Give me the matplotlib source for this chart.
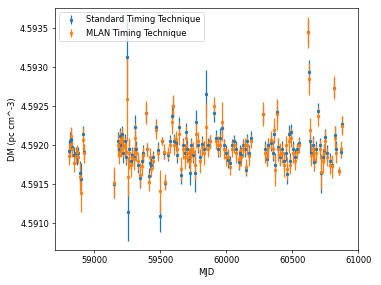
import matplotlib
matplotlib.use("Agg")
import matplotlib.pyplot as plt

# epochs (MJD)
mjd = [58808, 58818, 58825, 58832, 58845, 58858, 58870, 58878, 58890, 58900, 58912, 58918,
       59150, 59178, 59188, 59195, 59203, 59212, 59220, 59230, 59240, 59248, 59256, 59265,
       59275, 59287, 59298, 59307, 59318, 59330, 59345, 59358, 59372, 59388, 59400, 59413,
       59421, 59432, 59445, 59466, 59483, 59500, 59516, 59530, 59539, 59559, 59570, 59585,
       59597, 59605, 59615, 59625, 59642, 59660, 59672, 59685, 59692, 59705, 59717, 59723,
       59735, 59750, 59766, 59773, 59785, 59800, 59816, 59830, 59844, 59858, 59880, 59904,
       59920, 59935, 59950, 59967, 59980, 59995,
       60012, 60030, 60045, 60060, 60075, 60093, 60105, 60113, 60125, 60140, 60151, 60160,
       60171, 60185,
       60282, 60295, 60307, 60320, 60340, 60352, 60365, 60372, 60385, 60395, 60410, 60425,
       60440, 60450, 60461, 60473, 60480, 60491, 60505, 60520, 60535, 60554,
       60617, 60629, 60635, 60642, 60655, 60667, 60680, 60697, 60710, 60722, 60735, 60742,
       60750, 60765, 60785, 60800, 60815, 60822, 60835, 60856, 60871, 60880]

# standard timing technique
dm_std = [4.59193, 4.59205, 4.59208, 4.59198, 4.59188, 4.59190, 4.59185, 4.59190, 4.59165, 4.59157, 4.59215, 4.59192,
          4.59150, 4.59205, 4.59195, 4.59212, 4.59200, 4.59215, 4.59190, 4.59205, 4.59185, 4.59313, 4.59115, 4.59195,
          4.59180, 4.59188, 4.59185, 4.59224, 4.59195, 4.59175, 4.59158, 4.59180, 4.59190, 4.59242, 4.59195, 4.59161,
          4.59178, 4.59175, 4.59185, 4.59224, 4.59194, 4.59109, 4.59206, 4.59190, 4.59152, 4.59188, 4.59205, 4.59237,
          4.59250, 4.59205, 4.59203, 4.59188, 4.59224, 4.59162, 4.59200, 4.59190, 4.59217, 4.59195, 4.59181, 4.59164,
          4.59200, 4.59188, 4.59165, 4.59230, 4.59200, 4.59185, 4.59202, 4.59195, 4.59266, 4.59200, 4.59205, 4.59242,
          4.59210, 4.59195, 4.59210, 4.59222, 4.59200, 4.59190,
          4.59181, 4.59178, 4.59200, 4.59205, 4.59195, 4.59179, 4.59190, 4.59188, 4.59200, 4.59195, 4.59169, 4.59205,
          4.59190, 4.59210,
          4.59240, 4.59195, 4.59183, 4.59200, 4.59203, 4.59190, 4.59215, 4.59175, 4.59243, 4.59198, 4.59185, 4.59195,
          4.59180, 4.59190, 4.59163, 4.59214, 4.59180, 4.59217, 4.59195, 4.59185, 4.59195, 4.59203,
          4.59345, 4.59294, 4.59205, 4.59190, 4.59200, 4.59179, 4.59195, 4.59244, 4.59200, 4.59164, 4.59185, 4.59192,
          4.59211, 4.59190, 4.59180, 4.59175, 4.59274, 4.59213, 4.59195, 4.59167, 4.59192, 4.59227]
err_std = [0.00012, 0.00012, 0.00014, 0.00010, 0.00010, 0.00008, 0.00010, 0.00008, 0.00015, 0.00020, 0.00010, 0.00010,
           0.00018, 0.00012, 0.00010, 0.00010, 0.00012, 0.00010, 0.00012, 0.00010, 0.00010, 0.00050, 0.00038, 0.00012,
           0.00010, 0.00010, 0.00012, 0.00015, 0.00010, 0.00010, 0.00012, 0.00010, 0.00010, 0.00012, 0.00008, 0.00010,
           0.00010, 0.00010, 0.00008, 0.00010, 0.00010, 0.00020, 0.00005, 0.00008, 0.00008, 0.00008, 0.00008, 0.00015,
           0.00012, 0.00010, 0.00010, 0.00010, 0.00012, 0.00012, 0.00010, 0.00012, 0.00012, 0.00012, 0.00010, 0.00015,
           0.00010, 0.00010, 0.00025, 0.00015, 0.00010, 0.00010, 0.00010, 0.00010, 0.00030, 0.00010, 0.00008, 0.00012,
           0.00010, 0.00010, 0.00012, 0.00010, 0.00008, 0.00010,
           0.00010, 0.00008, 0.00008, 0.00008, 0.00010, 0.00010, 0.00010, 0.00010, 0.00008, 0.00010, 0.00008, 0.00010,
           0.00010, 0.00008,
           0.00012, 0.00010, 0.00010, 0.00010, 0.00010, 0.00010, 0.00012, 0.00015, 0.00015, 0.00012, 0.00010, 0.00010,
           0.00012, 0.00010, 0.00012, 0.00012, 0.00010, 0.00010, 0.00010, 0.00010, 0.00008, 0.00008,
           0.00015, 0.00015, 0.00015, 0.00012, 0.00012, 0.00012, 0.00010, 0.00010, 0.00010, 0.00025, 0.00010, 0.00010,
           0.00010, 0.00010, 0.00010, 0.00010, 0.00012, 0.00012, 0.00010, 0.00005, 0.00008, 0.00010]

# MLAN timing technique
dm_mlan = [4.59187, 4.59200, 4.59212, 4.59195, 4.59178, 4.59186, 4.59192, 4.59185, 4.59160, 4.59139, 4.59207, 4.59190,
           4.59152, 4.59200, 4.59188, 4.59205, 4.59195, 4.59210, 4.59200, 4.59198, 4.59192, 4.59260, 4.59160, 4.59190,
           4.59175, 4.59185, 4.59183, 4.59210, 4.59190, 4.59180, 4.59162, 4.59173, 4.59188, 4.59242, 4.59195, 4.59153,
           4.59185, 4.59170, 4.59180, 4.59220, 4.59190, 4.59141, 4.59206, 4.59192, 4.59153, 4.59190, 4.59200, 4.59230,
           4.59250, 4.59200, 4.59208, 4.59195, 4.59215, 4.59170, 4.59195, 4.59185, 4.59210, 4.59190, 4.59185, 4.59180,
           4.59195, 4.59192, 4.59175, 4.59214, 4.59205, 4.59180, 4.59198, 4.59190, 4.59224, 4.59195, 4.59205, 4.59250,
           4.59205, 4.59200, 4.59200, 4.59230, 4.59195, 4.59185,
           4.59185, 4.59172, 4.59195, 4.59200, 4.59190, 4.59182, 4.59185, 4.59185, 4.59195, 4.59200, 4.59172, 4.59200,
           4.59186, 4.59205,
           4.59240, 4.59190, 4.59185, 4.59196, 4.59207, 4.59195, 4.59220, 4.59168, 4.59240, 4.59195, 4.59188, 4.59190,
           4.59175, 4.59200, 4.59170, 4.59205, 4.59175, 4.59210, 4.59190, 4.59180, 4.59192, 4.59200,
           4.59345, 4.59285, 4.59220, 4.59188, 4.59195, 4.59183, 4.59190, 4.59237, 4.59195, 4.59166, 4.59180, 4.59190,
           4.59205, 4.59185, 4.59175, 4.59173, 4.59274, 4.59210, 4.59190, 4.59167, 4.59195, 4.59225]
err_mlan = [0.00012, 0.00015, 0.00012, 0.00010, 0.00012, 0.00010, 0.00008, 0.00008, 0.00018, 0.00025, 0.00015, 0.00012,
            0.00020, 0.00015, 0.00012, 0.00015, 0.00010, 0.00012, 0.00015, 0.00012, 0.00015, 0.00055, 0.00025, 0.00020,
            0.00015, 0.00010, 0.00015, 0.00018, 0.00010, 0.00012, 0.00015, 0.00012, 0.00010, 0.00015, 0.00008, 0.00012,
            0.00012, 0.00010, 0.00010, 0.00012, 0.00010, 0.00028, 0.00005, 0.00010, 0.00010, 0.00008, 0.00010, 0.00015,
            0.00015, 0.00012, 0.00010, 0.00012, 0.00015, 0.00015, 0.00012, 0.00015, 0.00015, 0.00012, 0.00012, 0.00015,
            0.00012, 0.00012, 0.00020, 0.00018, 0.00012, 0.00015, 0.00012, 0.00015, 0.00030, 0.00010, 0.00008, 0.00012,
            0.00010, 0.00012, 0.00015, 0.00025, 0.00012, 0.00012,
            0.00010, 0.00010, 0.00010, 0.00010, 0.00012, 0.00012, 0.00012, 0.00012, 0.00010, 0.00010, 0.00010, 0.00012,
            0.00012, 0.00008,
            0.00015, 0.00012, 0.00012, 0.00012, 0.00012, 0.00012, 0.00015, 0.00020, 0.00020, 0.00015, 0.00015, 0.00012,
            0.00015, 0.00012, 0.00015, 0.00015, 0.00012, 0.00012, 0.00012, 0.00012, 0.00010, 0.00010,
            0.00020, 0.00020, 0.00015, 0.00015, 0.00015, 0.00015, 0.00012, 0.00012, 0.00012, 0.00022, 0.00015, 0.00012,
            0.00015, 0.00012, 0.00012, 0.00015, 0.00015, 0.00015, 0.00012, 0.00005, 0.00010, 0.00012]

fig = plt.figure(figsize=(6.35, 4.75), dpi=60)
ax = fig.add_subplot(111)
fig.subplots_adjust(left=0.144, right=0.94, bottom=0.123, top=0.972)

ax.errorbar(mjd, dm_std, yerr=err_std, fmt='.', color='tab:blue', label='Standard Timing Technique')
ax.errorbar(mjd, dm_mlan, yerr=err_mlan, fmt='.', color='tab:orange', label='MLAN Timing Technique')

ax.set_xlim(58700, 61000)
ax.set_ylim(4.59066, 4.59376)
ax.ticklabel_format(axis='y', useOffset=False)
ax.set_xlabel('MJD')
ax.set_ylabel('DM (pc cm^-3)')
ax.legend(loc='upper left')

fig.savefig('out.png', dpi=60)
